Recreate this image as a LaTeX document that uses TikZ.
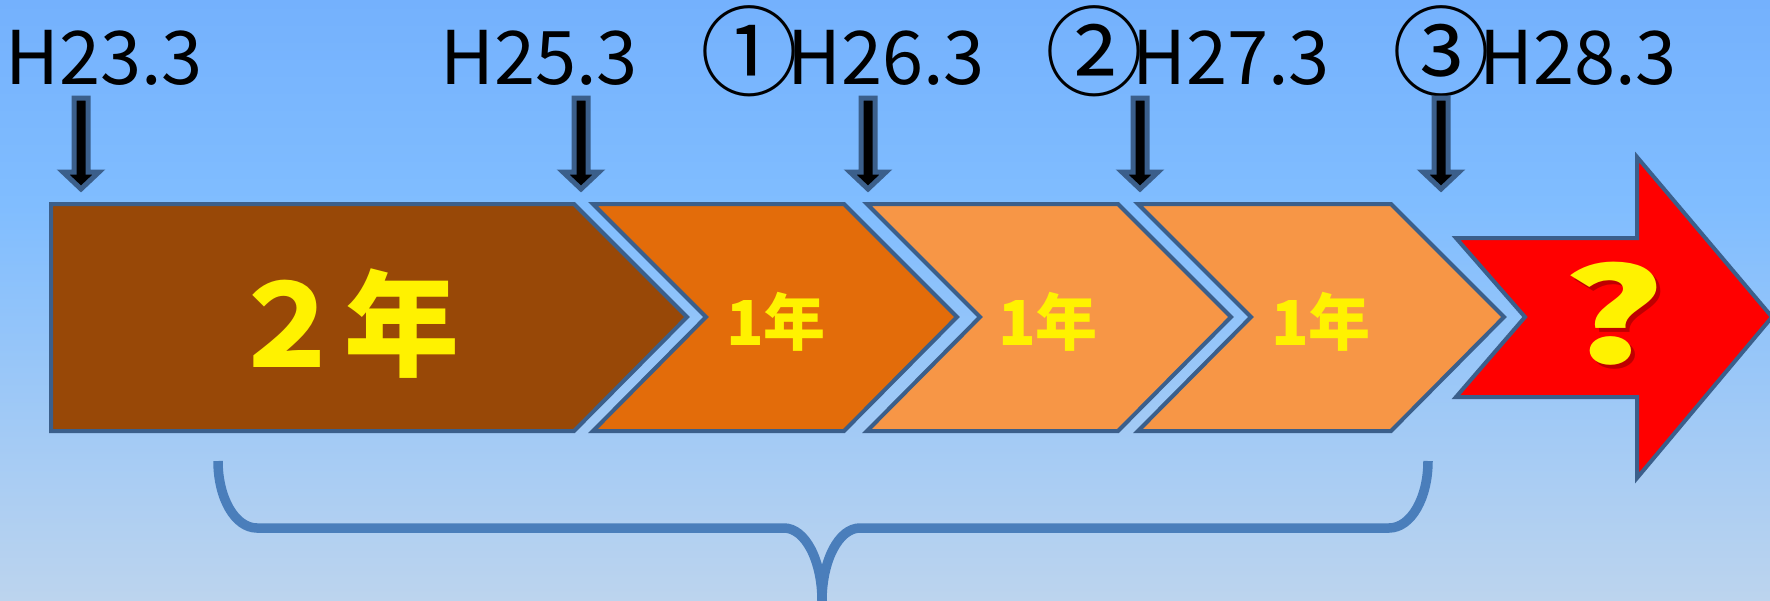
\documentclass[tikz,border=0pt]{standalone}
\usepackage{fontspec}
\newfontfamily\cjk{Noto Sans CJK JP}
\definecolor{edgeblue}{HTML}{3B5F8B}
\definecolor{brownf}{HTML}{984807}
\definecolor{dorange}{HTML}{E36C0A}
\definecolor{lorange}{HTML}{F79646}
\definecolor{bracec}{HTML}{4A7EBB}
\definecolor{bgtop}{HTML}{74B1FD}
\definecolor{bgmid}{HTML}{80BDFF}
\definecolor{bgbot}{HTML}{BCD4EE}
\definecolor{qshadow}{HTML}{8A0000}
\pgfdeclareverticalshading{bgshade}{100bp}{color(0bp)=(bgbot); color(25bp)=(bgbot); color(58bp)=(bgmid); color(75bp)=(bgtop); color(100bp)=(bgtop)}
\newcommand{\circnum}[1]{\raisebox{-4pt}{\fontsize{98}{98}\selectfont #1}\kern-11pt}
\tikzset{
  chev/.style={draw=edgeblue, line width=4pt, line join=miter},
  darr/.style={fill=black, draw=edgeblue, line width=5pt, line join=miter},
  lab/.style={font=\cjk\fontsize{74}{74}\selectfont, text=black, inner sep=0pt, anchor=base west},
  yrs/.style={font=\cjk\bfseries\fontsize{62}{62}\selectfont, text=yellow, inner sep=0pt},
  bigyrs/.style={font=\cjk\bfseries\fontsize{115}{115}\selectfont, text=yellow, inner sep=0pt},
  bracestyle/.style={draw=bracec, line width=9.5pt, line cap=butt},
}
\begin{document}
\begin{tikzpicture}[x=1pt, y=-1pt]
\useasboundingbox (0,0) rectangle (1770,600);
\shade[shading=bgshade] (0,0) rectangle (1770,600);

% labels
\node[lab] (l1) at (5,84) {H23.3};
\node[lab] (l2) at (440,84) {H25.3};
\node[lab] (l3) at (700,84) {\circnum{①}H26.3};
\node[lab] (l4) at (1045,84) {\circnum{②}H27.3};
\node[lab] (l5) at (1392,84) {\circnum{③}H28.3};

% down arrows
\foreach \cx in {81,581,868,1140,1441}{
  \draw[darr] (\cx-7,98) -- (\cx+7,98) -- (\cx+7,172) -- (\cx+18,172) -- (\cx,189) -- (\cx-18,172) -- (\cx-7,172) -- cycle;
}

% chevrons
\draw[chev, fill=brownf] (51,204) -- (574,204) -- (687,317) -- (574,431) -- (51,431) -- cycle;
\draw[chev, fill=dorange] (593,204) -- (844,204) -- (957,317) -- (844,431) -- (593,431) -- (706,317) -- cycle;
\draw[chev, fill=lorange] (867,204) -- (1118,204) -- (1231,317) -- (1118,431) -- (867,431) -- (980,317) -- cycle;
\draw[chev, fill=lorange] (1138,204) -- (1391,204) -- (1504,317) -- (1391,431) -- (1138,431) -- (1251,317) -- cycle;

% red arrow
\draw[chev, fill=red] (1456,238) -- (1637,238) -- (1637,157) -- (1772,317) -- (1637,478) -- (1637,397) -- (1456,397) -- (1525,317) -- cycle;

% texts
\node[bigyrs] (t0) at (344,324) {２年};
\node[yrs] (t1) at (776,322) {1年};
\node[yrs] (t2) at (1048,322) {1年};
\node[yrs] (t3) at (1321,322) {1年};
\node[font=\cjk\bfseries\fontsize{130}{130}\selectfont, text=qshadow, opacity=0.55, inner sep=0pt, xscale=1.5] (qs) at (1618,318) {?};
\node[font=\cjk\bfseries\fontsize{130}{130}\selectfont, text=yellow, inner sep=0pt, xscale=1.5] (q) at (1614,314) {?};

% brace
\draw[bracestyle] (218,461) .. controls (218,498) and (235,528) .. (257,528) -- (784,528) .. controls (805,528) and (822,560) .. (822,601);
\draw[bracestyle] (1428,461) .. controls (1428,498) and (1411,528) .. (1389,528) -- (860,528) .. controls (839,528) and (822,560) .. (822,601);
\end{tikzpicture}
\end{document}
